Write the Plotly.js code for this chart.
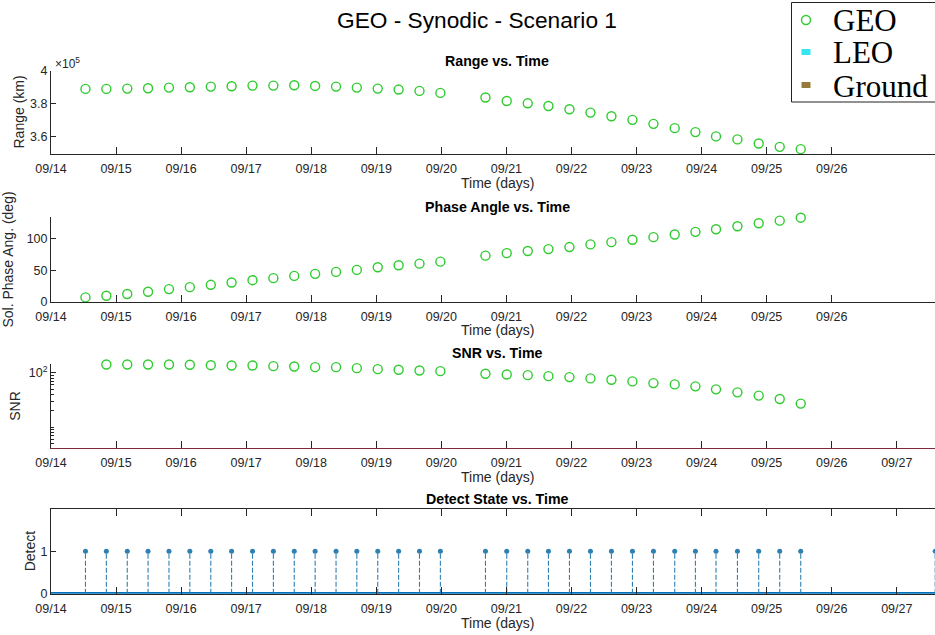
<!DOCTYPE html>
<html>
<head>
<meta charset="utf-8">
<script src="https://cdn.plot.ly/plotly-3.0.1.min.js"></script>
<style>
html,body{margin:0;padding:0;overflow:hidden;background:#fff;}
#chart{width:943px;height:635px;}
</style>
</head>
<body>
<div id="chart"></div>
<script>
// ---------------- DATA ----------------
const geoTimes = [
 '2020-09-14 12:43','2020-09-14 20:25','2020-09-15 04:08','2020-09-15 11:48','2020-09-15 19:31',
 '2020-09-16 03:13','2020-09-16 10:57','2020-09-16 18:37','2020-09-17 02:20','2020-09-17 10:02',
 '2020-09-17 17:44','2020-09-18 01:26','2020-09-18 09:09','2020-09-18 16:49','2020-09-19 00:32',
 '2020-09-19 08:14','2020-09-19 15:56','2020-09-19 23:38',
 '2020-09-20 16:16','2020-09-21 00:07','2020-09-21 07:52','2020-09-21 15:30','2020-09-21 23:15',
 '2020-09-22 07:00','2020-09-22 14:44','2020-09-22 22:29','2020-09-23 06:14','2020-09-23 14:05',
 '2020-09-23 21:43','2020-09-24 05:19','2020-09-24 13:13','2020-09-24 21:04','2020-09-25 04:49',
 '2020-09-25 12:34'
];
const geoRangeKm = [
 389000,389000,389200,389400,389800,390000,390400,390600,391000,391000,
 391200,390800,390400,389800,389200,388600,387800,386600,
 383800,381700,380300,378700,376700,374700,372500,370300,367900,365300,
 362900,360300,358500,356000,354000,352600
];
const geoPhaseDeg = [
 7.3,9.9,12.6,16.2,20.4,23.5,27.2,30.9,34.5,37.7,41.3,44.5,47.6,50.8,54.9,58.1,60.7,63.8,
 73.3,77.4,80.6,83.7,86.9,91.1,94.7,98.4,102.6,106.8,111.0,115.1,119.8,124.5,128.7,133.4
];
const geoSNR = [
 145.8,141.6,141.6,141.6,141.6,139.8,137.5,135.8,135.8,131.9,130.2,126.5,126.5,121.3,116.3,113.4,110.1,106.9,
 95.9,93.1,90.4,86.7,83.2,78.8,74.6,69.5,64.7,61.2,56.4,49.7,43.8,38.2,33.1,27.3
];
const detectTimes = geoTimes.concat(['2020-09-27 14:10']);
const detectState = [1,1,1,1,1,1,1,1,1,1,1,1,1,1,1,1,1,1,1,1,1,1,1,1,1,1,1,1,1,1,1,1,1,1,1];
const detectBaseTimes = ['2020-09-14 00:00','2020-09-27 17:03'];
const detectBaseState = [0,0];
const tickDatesShort = ['2020-09-14','2020-09-15','2020-09-16','2020-09-17','2020-09-18','2020-09-19','2020-09-20',
 '2020-09-21','2020-09-22','2020-09-23','2020-09-24','2020-09-25','2020-09-26'];
const tickDatesLong = tickDatesShort.concat(['2020-09-27']);
const legendNames = ['GEO','LEO','Ground'];
const legendColors = ['#2ecc2e','#35e6f0','#967b3a'];

// ---------------- LAYOUT HELPERS ----------------
const W = 943, H = 635, L = 51;
const px2x = p => (p - L) / (W - L);
const px2y = p => 1 - p / H;
const axisCol = '#262626';
const FONT = 'Liberation Sans, Arial, Helvetica, sans-serif';
const SERIF = 'Liberation Serif, Times New Roman, serif';

const stemX = [], stemY = [];
detectTimes.forEach((t, i) => { stemX.push(t, t, null); stemY.push(0, detectState[i], null); });

const geoMarker = {symbol:'circle-open', size:9, color:legendColors[0], line:{width:1.4, color:legendColors[0]}};

const traces = [
 {x:geoTimes, y:geoRangeKm, xaxis:'x', yaxis:'y', mode:'markers', type:'scatter', name:legendNames[0],
  marker:geoMarker, cliponaxis:false},
 {x:geoTimes, y:geoPhaseDeg, xaxis:'x2', yaxis:'y2', mode:'markers', type:'scatter', name:legendNames[0],
  marker:geoMarker, cliponaxis:false},
 {x:geoTimes, y:geoSNR, xaxis:'x3', yaxis:'y3', mode:'markers', type:'scatter', name:legendNames[0],
  marker:geoMarker, cliponaxis:false},
 {x:detectBaseTimes, y:detectBaseState, xaxis:'x4', yaxis:'y4', mode:'lines', type:'scatter', name:'Detect',
  line:{color:'#0072BD', width:3.5}, cliponaxis:false},
 {x:stemX, y:stemY, xaxis:'x4', yaxis:'y4', mode:'lines', type:'scatter', name:'Detect',
  line:{color:'#2f7fb0', width:1.1, dash:'5px,2px'}},
 {x:detectTimes, y:detectState, xaxis:'x4', yaxis:'y4', mode:'markers', type:'scatter', name:'Detect',
  marker:{color:'#2f7fb0', size:5}}
];

const xRange = ['2020-09-14 00:00','2020-09-27 17:03'];
function xAxis(anchor, ticks, extra) {
  return Object.assign({
    domain:[0,1], anchor:anchor, type:'date', range:xRange, tickmode:'array', tickvals:ticks,
    tickformat:'%m/%d', ticks:'inside', ticklen:7, tickcolor:axisCol, showline:true, linecolor:axisCol,
    linewidth:1, showgrid:false, zeroline:false, tickfont:{size:12.5, color:axisCol, family:FONT},
    ticklabelstandoff:3, automargin:false
  }, extra || {});
}
function yAxis(top, bottom, anchor, extra) {
  return Object.assign({
    domain:[px2y(bottom), px2y(top)], anchor:anchor, ticks:'inside', ticklen:5, tickcolor:axisCol,
    showline:true, linecolor:axisCol, linewidth:1, showgrid:false, zeroline:false,
    tickfont:{size:12.5, color:axisCol, family:FONT}, automargin:false
  }, extra || {});
}

const annotations = [];
function ann(text, x, y, opts) {
  annotations.push(Object.assign({text:text, xref:'paper', yref:'paper', x:px2x(x), y:px2y(y),
    showarrow:false, xanchor:'center', yanchor:'middle', font:{family:FONT, size:14, color:axisCol}}, opts||{}));
}
ann('GEO - Synodic - Scenario 1', 477, 20, {font:{family:FONT, size:22.7, color:'#000'}});
const subTitles = [['Range vs. Time',61],['Phase Angle vs. Time',207],['SNR vs. Time',353],['Detect State vs. Time',499]];
subTitles.forEach(s => ann('<b>'+s[0]+'</b>', 497, s[1], {font:{family:FONT, size:14.2, color:'#000'}}));
[183, 330, 477, 623].forEach(y => ann('Time (days)', 497, y, {font:{family:FONT, size:14, color:axisCol}}));
ann('Range (km)', 18, 112.5, {textangle:-90, font:{family:FONT, size:14, color:axisCol}});
ann('Sol. Phase Ang. (deg)', 8, 259.6, {textangle:-90, font:{family:FONT, size:14, color:axisCol}});
ann('SNR', 15, 405.8, {textangle:-90, font:{family:FONT, size:14, color:axisCol}});
ann('Detect', 30, 551.3, {textangle:-90, font:{family:FONT, size:14, color:axisCol}});
ann('\u00d710<sup>5</sup>', 53, 63, {xanchor:'left', font:{family:FONT, size:12, color:axisCol}});

// ---------------- LEGEND (MATLAB-style box) ----------------
const shapes = [];
const legRows = [20, 52, 85];
shapes.push({type:'rect', xref:'paper', yref:'paper', x0:px2x(791.5), x1:px2x(960), y0:px2y(102), y1:px2y(2.5),
  fillcolor:'#fff', line:{color:'#222', width:1}, layer:'above'});
legendNames.forEach((n, i) => {
  const cy = legRows[i];
  ann(n, 831, cy + 1, {xanchor:'left', font:{family:SERIF, size:31, color:'#000'}});
  if (i === 0) {
    shapes.push({type:'circle', xref:'paper', yref:'paper', x0:px2x(801.5), x1:px2x(810.5), y0:px2y(cy+4.5), y1:px2y(cy-4.5),
      line:{color:legendColors[i], width:1.4}, fillcolor:'rgba(0,0,0,0)', layer:'above'});
  } else {
    shapes.push({type:'rect', xref:'paper', yref:'paper', x0:px2x(801.5), x1:px2x(810.5), y0:px2y(cy+3), y1:px2y(cy-3),
      line:{width:0}, fillcolor:legendColors[i], layer:'above'});
  }
});

const layout = {
  width:W, height:H, margin:{l:L, r:0, t:0, b:0}, paper_bgcolor:'#fff', plot_bgcolor:'rgba(0,0,0,0)',
  font:{family:FONT, color:axisCol},
  showlegend:false,
  xaxis: xAxis('y', tickDatesShort),
  xaxis2: xAxis('y2', tickDatesShort),
  xaxis3: xAxis('y3', tickDatesLong, {linecolor:'#7e2a3c', linewidth:1.6}),
  xaxis4: xAxis('y4', tickDatesLong, {mirror:'ticks'}),
  yaxis: yAxis(70.7, 154.3, 'x', {range:[349500, 400000], tickmode:'array', tickvals:[360000,380000,400000], ticktext:['3.6','3.8','4']}),
  yaxis2: yAxis(217.3, 302, 'x2', {range:[0,134], tickmode:'array', tickvals:[0,50,100]}),
  yaxis3: yAxis(364, 447.7, 'x3', {type:'log', range:[0.63, 2.16], tickmode:'array', tickvals:[100], ticktext:['10<sup>2</sup>'],
    minor:{ticks:'inside', ticklen:3, tickcolor:axisCol, dtick:'D1', showgrid:false}}),
  yaxis4: yAxis(509, 593.7, 'x4', {range:[0,2], tickmode:'array', tickvals:[0,1]}),
  shapes: shapes,
  annotations: annotations
};

Plotly.newPlot('chart', traces, layout, {displayModeBar:false, staticPlot:true});
</script>
</body>
</html>
